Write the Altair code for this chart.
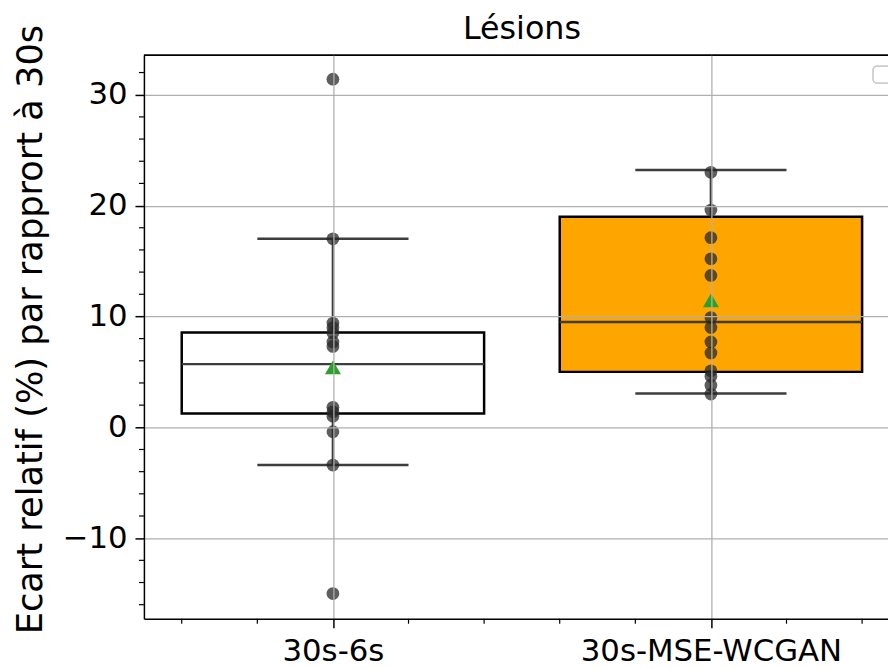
import altair as alt
import pandas as pd

# ---------------- data ----------------
categories = ["30s-6s", "30s-MSE-WCGAN"]
box_fill = ["#ffffff", "#ffa500"]
q1 = [1.25, 5.0]
median = [5.7, 9.5]
q3 = [8.55, 19.0]
whisker_low = [-3.4, 3.05]
whisker_high = [17.0, 23.2]
means = [5.4, 11.45]

points_6s = [31.4, 17.0, 9.4, 9.0, 8.5, 7.7, 7.3, 1.8, 1.4, 1.0, -0.4, -3.4, -15.0]
points_wcgan = [23.0, 19.6, 17.1, 15.2, 13.7, 9.9, 9.0, 7.7, 6.7, 5.1, 4.6, 3.8, 3.0]

y_major = [-10, 0, 10, 20, 30]
y_minor = [-16, -14, -12, -8, -6, -4, -2, 2, 4, 6, 8, 12, 14, 16, 18, 22, 24, 26, 28, 32]
x_major = [0, 1]
x_minor = [-0.4, -0.2, 0.2, 0.4, 0.6, 0.8, 1.2, 1.4]

title = "Lésions"
y_title = "Ecart relatif (%) par rapprort à 30s"

# ---------------- tables ----------------
W, H = 750, 568
FONT = "DejaVu Sans"

box_df = pd.DataFrame({
    "cat": categories,
    "pos": list(range(len(categories))),
    "q1": q1, "median": median, "q3": q3,
    "wlo": whisker_low, "whi": whisker_high, "mean": means,
})
box_df["lo"] = box_df["pos"] - 0.4
box_df["hi"] = box_df["pos"] + 0.4
box_df["clo"] = box_df["pos"] - 0.2
box_df["chi"] = box_df["pos"] + 0.2

pts_df = pd.DataFrame({
    "pos": [0] * len(points_6s) + [1] * len(points_wcgan),
    "value": points_6s + points_wcgan,
})
ymin_df = pd.DataFrame({"v": y_minor})
xmin_df = pd.DataFrame({"v": x_minor})
title_df = pd.DataFrame({"t": [title]})

xscale = alt.Scale(domain=[-0.5, 1.4685], nice=False, zero=False)
yscale = alt.Scale(domain=[-17.27, 33.56], nice=False, zero=False)

label_expr = " : ".join(
    [f"datum.value === {i} ? '{c}'" for i, c in enumerate(categories)]
) + " : ''"

xaxis = alt.Axis(
    values=x_major, labelExpr=label_expr, title=None,
    grid=True, gridColor="#b0b0b0", gridWidth=1.3,
    domainColor="black", domainWidth=1.5,
    tickColor="black", tickWidth=1.5, tickSize=9,
    labelFont=FONT, labelFontSize=31, labelColor="black", labelPadding=9,
    labelFlush=False, labelOverlap=False, labelLimit=0, zindex=1,
)
yaxis = alt.Axis(
    values=y_major, title=y_title, format="d",
    grid=True, gridColor="#b0b0b0", gridWidth=1.3,
    domainColor="black", domainWidth=1.5,
    tickColor="black", tickWidth=1.5, tickSize=9,
    labelFont=FONT, labelFontSize=31, labelColor="black", labelPadding=8,
    titleFont=FONT, titleFontSize=35.5, titleFontWeight="normal", titleColor="black",
    titlePadding=14, titleY=276, zindex=1,
)


def X(field):
    return alt.X(field, type="quantitative", scale=xscale, axis=xaxis)


def Y(field):
    return alt.Y(field, type="quantitative", scale=yscale, axis=yaxis)


base = alt.Chart(box_df)

boxes = base.mark_bar(stroke="black", strokeWidth=2.5).encode(
    x=X("lo"), x2="hi", y=Y("q1"), y2="q3",
    fill=alt.Fill("cat:N", scale=alt.Scale(domain=categories, range=box_fill), legend=None),
)
wcol = "#3d3d3d"
whisk_hi = base.mark_rule(color=wcol, strokeWidth=2.5).encode(x=X("pos"), y=Y("q3"), y2="whi")
whisk_lo = base.mark_rule(color=wcol, strokeWidth=2.5).encode(x=X("pos"), y=Y("wlo"), y2="q1")
cap_hi = base.mark_rule(color=wcol, strokeWidth=2.5).encode(x=X("clo"), x2="chi", y=Y("whi"))
cap_lo = base.mark_rule(color=wcol, strokeWidth=2.5).encode(x=X("clo"), x2="chi", y=Y("wlo"))
med = base.mark_rule(color=wcol, strokeWidth=2.5).encode(x=X("lo"), x2="hi", y=Y("median"))

pts = alt.Chart(pts_df).mark_circle(size=165, color="#262626", opacity=0.74).encode(
    x=X("pos"), y=Y("value")
)
mean_mk = base.mark_point(shape="triangle-up", filled=True, color="#2ca02c",
                          size=260, opacity=1).encode(x=X("pos"), y=Y("mean"))

y_minor_ticks = alt.Chart(ymin_df).mark_rule(color="black", strokeWidth=1.2).encode(
    y=Y("v"), x=alt.value(-5), x2=alt.value(0)
)
x_minor_ticks = alt.Chart(xmin_df).mark_rule(color="black", strokeWidth=1.2).encode(
    x=X("v"), y=alt.value(H), y2=alt.value(H + 5)
)
top_frame = alt.Chart(box_df).mark_rule(color="black", strokeWidth=1.5).encode(
    x=alt.value(0), x2=alt.value(W), y=alt.value(0)
)
legend_box = alt.Chart(box_df).mark_rect(
    fill="white", stroke="#cccccc", strokeWidth=1.5, cornerRadius=4
).encode(x=alt.value(735), x2=alt.value(765), y=alt.value(11), y2=alt.value(28))

title_mark = alt.Chart(title_df).mark_text(
    font=FONT, fontSize=32, color="black", align="center", baseline="alphabetic"
).encode(text="t:N", x=alt.value(381), y=alt.value(-16))

chart = alt.layer(
    boxes, whisk_hi, whisk_lo, cap_hi, cap_lo, med, pts, mean_mk,
    y_minor_ticks, x_minor_ticks, top_frame, legend_box, title_mark,
).properties(
    width=W, height=H,
    autosize=alt.AutoSizeParams(type="none"),
    padding={"left": 137, "top": 45, "right": 0, "bottom": 48},
    background="white",
).configure_view(stroke=None)

chart.save("out.html", embed_options={"renderer": "svg", "actions": False})
